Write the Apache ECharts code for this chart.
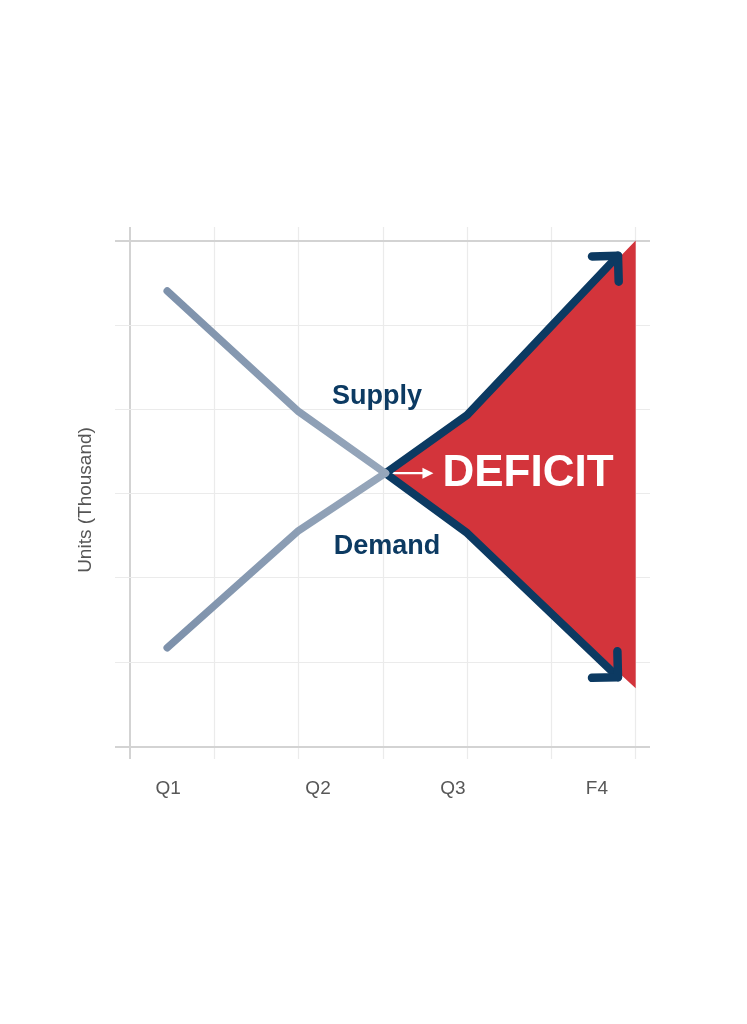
<!DOCTYPE html>
<html>
<head>
<meta charset="utf-8">
<script src="https://cdn.jsdelivr.net/npm/echarts@6/dist/echarts.min.js"></script>
<style>
html,body{margin:0;padding:0;background:#fff;}
#chart{width:747px;height:1024px;}
</style>
</head>
<body>
<div id="chart"></div>
<script>
// ---- data ----
const categories = ['Q1', 'Q2', 'Q3', 'F4'];
const categoryPos = [0.45, 2.23, 3.83, 5.54];
const xPoints = [0.44, 2.0, 3.03, 4.0, 5.79];
const supply = [5.40, 3.97, 3.24, 2.53, 0.82];
const demand = [1.17, 2.56, 3.24, 3.93, 5.82];
const crossIndex = 2;
const deficitEdge = [[6.0, 6.0], [6.0, 0.69]];
const xTicks = [0, 1, 2, 3, 4, 5, 6];
const yTicks = [0, 1, 2, 3, 4, 5, 6];
const yTitle = 'Units (Thousand)';

const NAVY = '#0c3a62';
const RED = '#d3343b';
const FONT = '"Liberation Sans", Arial, sans-serif';

function pairs(xs, ys, from, to) {
  const out = [];
  for (let i = from; i <= to; i++) out.push([xs[i], ys[i]]);
  return out;
}
const last = xPoints.length - 1;
const supplyPast = pairs(xPoints, supply, 0, crossIndex);
const demandPast = pairs(xPoints, demand, 0, crossIndex);
const supplyFuture = pairs(xPoints, supply, crossIndex, last);
const demandFuture = pairs(xPoints, demand, crossIndex, last);

const deficitPolygon = [
  [xPoints[crossIndex], demand[crossIndex]]
].concat(pairs(xPoints, demand, crossIndex + 1, last - 1))
 .concat(deficitEdge)
 .concat(pairs(xPoints, supply, crossIndex + 1, last - 1).reverse());

const grayGrad = new echarts.graphic.LinearGradient(0, 0, 1, 0, [
  { offset: 0, color: '#7d91ab' },
  { offset: 1, color: '#97a7bb' }
]);

const gridLines = [];
xTicks.forEach(v => gridLines.push({
  xAxis: v,
  lineStyle: { color: v === 0 ? '#d3d3d3' : '#ebebeb', width: v === 0 ? 2 : 1.2, type: 'solid' }
}));
yTicks.forEach(v => gridLines.push({
  yAxis: v,
  lineStyle: { color: (v === 0 || v === 6) ? '#d3d3d3' : '#ebebeb', width: (v === 0 || v === 6) ? 2 : 1.2, type: 'solid' }
}));

const chart = echarts.init(document.getElementById('chart'), null, { renderer: 'canvas' });

const option = {
  animation: false,
  backgroundColor: '#ffffff',
  grid: { left: 115, right: 97, top: 227, bottom: 265 },
  xAxis: {
    type: 'value', min: -0.18, max: 6.17, show: false, splitLine: { show: false }
  },
  yAxis: {
    type: 'value', min: -0.15, max: 6.16, show: false, splitLine: { show: false }
  },
  series: [
    {
      name: 'grid', type: 'line', data: [[0, 0]], symbol: 'none', silent: true,
      lineStyle: { opacity: 0 }, z: 0,
      markLine: {
        silent: true, symbol: ['none', 'none'], label: { show: false }, z: 0,
        animation: false, data: gridLines
      }
    },
    {
      name: 'deficit', type: 'custom', z: 2, silent: true,
      data: [deficitPolygon[0]],
      encode: { x: 0, y: 1 },
      renderItem: function (params, api) {
        const pts = deficitPolygon.map(p => api.coord(p));
        const c = api.coord([xPoints[crossIndex], supply[crossIndex]]);
        const a0 = [c[0] + 6, c[1]];
        const a1 = [c[0] + 48, c[1]];
        return {
          type: 'group',
          children: [
            { type: 'polygon', shape: { points: pts }, style: { fill: RED } },
            { type: 'line', shape: { x1: a0[0], y1: a0[1], x2: a1[0] - 8, y2: a1[1] },
              style: { stroke: '#ffffff', lineWidth: 2.2 } },
            { type: 'polygon', shape: { points: [[a1[0], a1[1]], [a1[0] - 11, a1[1] - 5.5], [a1[0] - 11, a1[1] + 5.5]] },
              style: { fill: '#ffffff' } }
          ]
        };
      }
    },
    {
      name: 'Supply forecast', type: 'line', data: supplyFuture, symbol: 'none', z: 3,
      lineStyle: { color: NAVY, width: 8, cap: 'round', join: 'round' }
    },
    {
      name: 'Demand forecast', type: 'line', data: demandFuture, symbol: 'none', z: 3,
      lineStyle: { color: NAVY, width: 8, cap: 'round', join: 'round' }
    },
    {
      name: 'arrows', type: 'custom', z: 4, silent: true,
      data: [
        [xPoints[last], supply[last], xPoints[last - 1], supply[last - 1]],
        [xPoints[last], demand[last], xPoints[last - 1], demand[last - 1]]
      ],
      dimensions: ['x', 'y', 'px', 'py'],
      encode: { x: 0, y: 1 },
      renderItem: function (params, api) {
        const tip = api.coord([api.value(0), api.value(1)]);
        const prev = api.coord([api.value(2), api.value(3)]);
        let dx = prev[0] - tip[0], dy = prev[1] - tip[1];
        const len = Math.sqrt(dx * dx + dy * dy);
        dx /= len; dy /= len;
        const L = 26, ang = Math.PI / 4;
        const r = (a) => [tip[0] + L * (dx * Math.cos(a) - dy * Math.sin(a)), tip[1] + L * (dx * Math.sin(a) + dy * Math.cos(a))];
        return {
          type: 'polyline',
          shape: { points: [r(ang), tip, r(-ang)] },
          style: { stroke: NAVY, lineWidth: 8.5, lineCap: 'round', lineJoin: 'round', fill: null }
        };
      }
    },
    {
      name: 'Supply', type: 'line', data: supplyPast, symbol: 'none', z: 5,
      lineStyle: { color: grayGrad, width: 7.5, cap: 'round', join: 'round' }
    },
    {
      name: 'Demand', type: 'line', data: demandPast, symbol: 'none', z: 5,
      lineStyle: { color: grayGrad, width: 7.5, cap: 'round', join: 'round' }
    }
  ]
};
chart.setOption(option);

const labelY = 789;
const graphics = categories.map((c, i) => {
  const p = chart.convertToPixel({ gridIndex: 0 }, [categoryPos[i], 0]);
  return {
    type: 'text', x: p[0], y: labelY, silent: true,
    style: { text: c, font: '19px ' + FONT, fill: '#575757', align: 'center', verticalAlign: 'middle' }
  };
});
graphics.push({
  type: 'text', x: 86, y: 500, rotation: Math.PI / 2, silent: true,
  style: { text: yTitle, font: '19px ' + FONT, fill: '#555555', align: 'center', verticalAlign: 'middle' }
});
graphics.push({
  type: 'text', x: 377, y: 397, silent: true, z: 10,
  style: { text: 'Supply', font: 'bold 27px ' + FONT, fill: NAVY, align: 'center', verticalAlign: 'middle' }
});
graphics.push({
  type: 'text', x: 387, y: 547, silent: true, z: 10,
  style: { text: 'Demand', font: 'bold 27px ' + FONT, fill: NAVY, align: 'center', verticalAlign: 'middle' }
});
graphics.push({
  type: 'text', x: 528, y: 474, silent: true, z: 10,
  style: { text: 'DEFICIT', font: 'bold 44px ' + FONT, fill: '#ffffff', align: 'center', verticalAlign: 'middle' }
});
chart.setOption({ graphic: graphics });
</script>
</body>
</html>
